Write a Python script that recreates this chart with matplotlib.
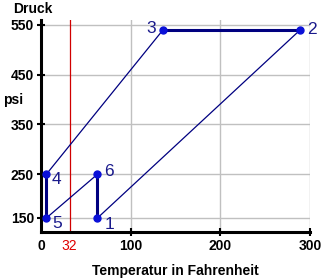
import numpy as np
import matplotlib
matplotlib.use("Agg")
import matplotlib.pyplot as plt

plt.rcParams['font.family'] = ['Liberation Sans', 'DejaVu Sans']

# state points of the cycle (temperature in F, pressure in psi)
point_labels = ['1', '2', '3', '4', '5', '6']
temp_F = [63, 289, 136, 6, 6, 63]
press_psi = [150, 540, 540, 250, 150, 250]

# thin lines and thick lines between points (indices into the lists above)
thin_segments = [(0, 1), (4, 5), (3, 2)]
thick_segments = [(1, 2), (3, 4), (5, 0)]

xticks = [100, 200, 300]
yticks = [150, 250, 350, 450, 550]
freezing = 32

# the original axis squeezes the range below 250 psi a little
def fwd(v):
    v = np.asarray(v, dtype=float)
    return np.where(v < 250, 250 - (250 - v) * 0.88, v)

def inv(u):
    u = np.asarray(u, dtype=float)
    return np.where(u < 250, 250 - (250 - u) / 0.88, u)

fig = plt.figure(figsize=(3.26, 2.78), dpi=100)
ax = fig.add_axes([41/326, 46/278, 269/326, 212/278])
ax.set_yscale('function', functions=(fwd, inv))
ax.set_xlim(0, 300)
ax.set_ylim(118, 560)

# grid
for t in xticks:
    ax.axvline(t, color='#c0c0c0', lw=1, zorder=1)
for p in yticks:
    ax.axhline(p, color='#c0c0c0', lw=1, zorder=1)
ax.axvline(freezing, color='#d00000', lw=0.9, zorder=2)

navy = '#000080'
for a, b in thin_segments:
    ax.plot([temp_F[a], temp_F[b]], [press_psi[a], press_psi[b]], color=navy, lw=0.9, zorder=3)
for a, b in thick_segments:
    ax.plot([temp_F[a], temp_F[b]], [press_psi[a], press_psi[b]], color=navy, lw=2.2, zorder=3)
ax.plot(temp_F, press_psi, 'o', color='#0a10d8', ms=5, zorder=4)

# point labels
offsets = {'1': (5, -5), '2': (5, 0), '3': (-5, 1), '4': (4, -4), '5': (4, -4), '6': (5, 2)}
for lab, t, p in zip(point_labels, temp_F, press_psi):
    dx, dy = offsets[lab]
    ax.annotate(lab, (t, p), xytext=(dx, dy), textcoords='offset points',
                ha='left' if dx > 0 else 'right', va='center',
                fontsize=12.5, color='#1a1a8c', zorder=5)

for s in ['top', 'right']:
    ax.spines[s].set_visible(False)
for s in ['left', 'bottom']:
    ax.spines[s].set_linewidth(2.2)
    ax.spines[s].set_color('black')

ax.set_xticks([0, freezing] + xticks)
ax.set_xticklabels(['0', '32', '100', '200', '300'], fontsize=10, fontweight='bold')
ax.get_xticklabels()[1].set_color('#e00000')
ax.get_xticklabels()[1].set_fontweight('normal')
ax.set_yticks(yticks)
ax.set_yticklabels([str(p) for p in yticks], fontsize=10, fontweight='bold')
ax.tick_params(axis='both', direction='inout', length=6, width=1.5, pad=2)
xt = ax.xaxis.get_major_ticks()
xt[0].tick1line.set_visible(False)
xt[1].tick1line.set_visible(False)

ax.set_xlabel('Temperatur in Fahrenheit', fontsize=10, fontweight='bold', labelpad=8)
fig.text(13/326, 1 - 9/278, 'Druck', fontsize=10, fontweight='bold', va='center', ha='left')
fig.text(3/326, 1 - 100/278, 'psi', fontsize=10, fontweight='bold', va='center', ha='left')

fig.savefig('out.png', dpi=100)
